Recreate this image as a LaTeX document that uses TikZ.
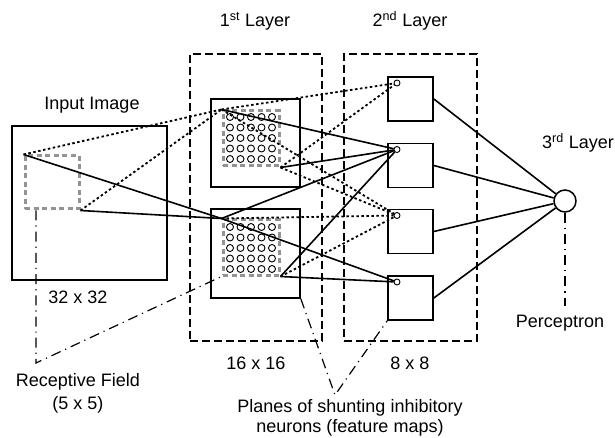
\documentclass[tikz,border=0pt]{standalone}
\usepackage{fontspec}
\setmainfont{Liberation Sans}
\usetikzlibrary{positioning}

\tikzset{
  box/.style={draw, line width=1.7pt, inner sep=0pt},
  layerbox/.style={draw, line width=1.1pt, dash pattern=on 8pt off 4pt, inner sep=0pt},
  fieldbox/.style={draw=gray!85, line width=3pt, dash pattern=on 5pt off 3.5pt, inner sep=0pt},
  neuron/.style={draw, circle, line width=0.9pt, minimum size=7pt, inner sep=0pt},
  link/.style={line width=1.6pt},
  weak/.style={line width=1.8pt, dash pattern=on 2.5pt off 2.5pt},
  pointer/.style={line width=1.2pt, dash pattern=on 10pt off 5pt on 1.2pt off 5pt},
  lbl/.style={font=\fontsize{18}{20}\selectfont, inner sep=0pt}
}

\begin{document}
\begin{tikzpicture}[x=1pt,y=-1pt]
\useasboundingbox (0,0) rectangle (615,438);
% input image and receptive field
\node[box, minimum width=155pt, minimum height=154pt] (input) at (89.5,203) {};
\node[lbl] (inputlbl) at (92,105) {Input Image};
\node[lbl] (size1) at (78,297) {32 x 32};
\node[fieldbox, minimum width=54pt, minimum height=53pt] (rf) at (52,182.5) {};
% layers
\node[layerbox, minimum width=132pt, minimum height=287pt] (layer1) at (256,197.5) {};
\node[layerbox, minimum width=133pt, minimum height=287pt] (layer2) at (410.5,197.5) {};
\node[lbl] (layer1lbl) at (255,21) {1\textsuperscript{st} Layer};
\node[lbl] (layer2lbl) at (410,21) {2\textsuperscript{nd} Layer};
\node[lbl] (layer3lbl) at (578,143) {3\textsuperscript{rd} Layer};
\node[lbl] (size2) at (256,363) {16 x 16};
\node[lbl] (size3) at (410,363) {8 x 8};
% feature maps of the 1st layer
\node[box, minimum width=89pt, minimum height=88pt] (fm1) at (255.5,143) {};
\node[box, minimum width=89pt, minimum height=89pt] (fm2) at (255.5,253.5) {};
\node[fieldbox, minimum width=56pt, minimum height=55pt] (rf1) at (251,138.5) {};
\node[fieldbox, minimum width=56pt, minimum height=55pt] (rf2) at (251,247.5) {};
\foreach \i in {0,...,4}
  \foreach \j in {0,...,4} {
    \node[neuron] at (230+10.5*\i,117+10.5*\j) {};
    \node[neuron] at (230+10.5*\i,227+10.5*\j) {};
  }
% 2nd layer planes
\foreach \k/\y in {1/99,2/165.5,3/231.5,4/298} {
  \node[box, minimum width=45pt, minimum height=44pt] (s\k) at (410.5,\y) {};
  \node[neuron, minimum size=6pt] (c\k) at (397,\y-16) {};
}
% 3rd layer
\node[draw, circle, line width=1.5pt, minimum size=22pt, inner sep=0pt] (p) at (565,201) {};
\node[lbl] (plbl) at (560,323) {Perceptron};
% connections
\draw[weak] (rf.north west) -- (rf1.north west);
\draw[weak] (rf.south east) -- (rf1.north west);
\draw[link] (rf.north west) -- (rf2.north west);
\draw[link] (rf.south east) -- (rf2.north west);
\draw[weak] (rf1.north west) -- (c1);
\draw[weak] (rf1.south east) -- (c1);
\draw[link] (rf1.north west) -- (c2);
\draw[link] (rf1.south east) -- (c2);
\draw[weak] (rf1.north west) -- (c3);
\draw[weak] (rf1.south east) -- (c3);
\draw[link] (rf2.north west) -- (c2);
\draw[link] (rf2.south east) -- (c2);
\draw[weak] (rf2.north west) -- (c3);
\draw[weak] (rf2.south east) -- (c3);
\draw[link] (rf2.north west) -- (c4);
\draw[link] (rf2.south east) -- (c4);
\foreach \k in {1,...,4}
  \draw[link] (s\k.east) -- (p);
% labels with pointers
\node[lbl, align=center, font=\fontsize{18}{23}\selectfont] (rflbl) at (78,393) {Receptive Field\\(5 x 5)};
\node[lbl, align=center] (planes) at (350,418) {Planes of shunting inhibitory\\neurons (feature maps)};
\coordinate (rfleg) at (36,363);
\coordinate (meet) at (335,395);
\draw[pointer] (rf.south west -| rfleg) -- (rfleg) -- (rf2.south west);
\draw[pointer] (fm2.south east) -- (meet) -- (s4.south west);
\draw[pointer] (p.south) -- (p.south |- 0,306);
\end{tikzpicture}
\end{document}
